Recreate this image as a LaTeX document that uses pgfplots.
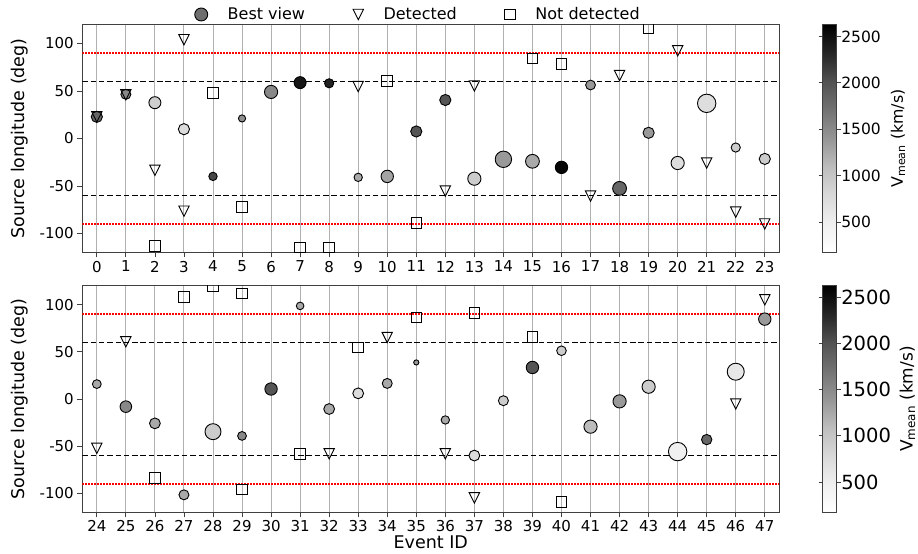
\documentclass[border=0pt]{standalone}
\usepackage{pgfplots}
\pgfplotsset{compat=1.18}
\usepackage{pgfplotstable}
\usepackage{fontspec}
\setmainfont{DejaVu Sans}

\pgfdeclareplotmark{tridown}{%
  \pgfpathmoveto{\pgfqpoint{0pt}{-\pgfplotmarksize}}%
  \pgfpathlineto{\pgfqpoint{\pgfplotmarksize}{\pgfplotmarksize}}%
  \pgfpathlineto{\pgfqpoint{-\pgfplotmarksize}{\pgfplotmarksize}}%
  \pgfpathclose\pgfusepathqstroke}

\definecolor{gridc}{HTML}{B0B0B0}
\definecolor{legc}{HTML}{6E6E6E}

\pgfplotstableread{
x y v r
0 22.8 1830 5.6
1 46.5 1520 5.0
2 37.7 900 6.0
3 9.8 750 5.6
4 -39.9 2100 4.2
5 21.1 1450 3.6
6 49.0 1520 6.6
7 58.8 2450 6.0
8 58.1 2350 4.6
9 -40.9 1250 4.2
10 -39.9 1300 6.2
11 7.4 1990 5.6
12 40.5 1990 5.6
13 -42.3 930 6.6
14 -21.9 1380 8.2
15 -24.0 1250 6.9
16 -30.4 2580 6.2
17 56.3 1380 4.9
18 -52.5 1830 6.9
19 6.0 1380 5.6
20 -25.8 720 6.6
21 37.0 720 9.2
22 -9.5 930 4.6
23 -21.5 930 5.6
}\circA

\pgfplotstableread{
x y
0 22.8
1 46.0
2 -33.5
3 104.0
3 -76.5
9 54.6
12 -55.4
13 55.3
17 -60.6
18 66.2
20 92.3
21 -25.8
22 -77.5
23 -89.9
}\triA

\pgfplotstableread{
x y
2 -113.0
4 48.2
5 -72.3
6 -123.8
7 -114.6
8 -114.6
10 60.6
11 -88.8
14 -120.2
15 84.2
16 78.2
19 116.6
}\sqA

\pgfplotstableread{
x y v r
24 15.8 1250 4.4
25 -8.1 1520 5.8
26 -25.8 1250 5.4
27 -101.5 1250 5.0
28 -34.6 930 8.0
29 -39.1 1520 4.4
30 10.6 1990 6.2
31 98.6 1250 3.8
32 -10.6 1250 5.4
33 6.0 740 5.4
34 16.5 1250 5.0
35 38.7 1380 2.6
36 -22.2 1250 4.2
37 -59.9 740 5.4
38 -1.8 930 5.0
39 33.4 1990 6.2
40 51.1 930 4.8
41 -29.3 1100 6.6
42 -2.5 1380 6.6
43 13.0 930 6.6
44 -55.7 480 9.2
45 -43.0 1830 5.2
46 28.9 600 8.5
47 84.6 1380 6.2
}\circB

\pgfplotstableread{
x y
24 -52.2
25 60.6
32 -58.1
34 65.1
36 -58.1
37 -104.7
46 -5.3
47 105.0
}\triB

\pgfplotstableread{
x y
26 -83.9
26 124.3
27 108.1
28 119.3
29 111.6
29 -95.9
31 -58.1
33 54.6
35 86.3
35 -122.3
37 90.9
39 65.9
40 -109.3
}\sqB

\begin{document}
\begin{tikzpicture}
\path[use as bounding box] (0,0) rectangle (918pt,554pt);
\pgfplotsset{
  myaxis/.style={
    scale only axis,
    width=697pt,
    enlargelimits=false,
    ymin=-120, ymax=120,
    ytick={-100,-50,0,50,100},
    xtick pos=bottom, ytick pos=left,
    tick align=outside,
    major tick length=5pt,
    every tick/.style={black!75, line width=0.8pt},
    axis line style={black!75, line width=0.9pt},
    xmajorgrids,
    major grid style={gridc, line width=0.9pt},
    tick label style={font=\fontsize{15}{18}\selectfont},
    label style={font=\fontsize{17.5}{21}\selectfont},
    ylabel style={yshift=5pt},
    /pgf/number format/assume math mode=true,
    /pgf/number format/1000 sep={},
    ylabel={Source longitude (deg)},
    clip marker paths=true,
    colormap={greys}{rgb=(1,1,1) rgb=(0.941,0.941,0.941) rgb=(0.851,0.851,0.851) rgb=(0.741,0.741,0.741) rgb=(0.588,0.588,0.588) rgb=(0.451,0.451,0.451) rgb=(0.322,0.322,0.322) rgb=(0.145,0.145,0.145) rgb=(0,0,0)},
    point meta min=170, point meta max=2630,
    colorbar,
  },
  cbstyle/.style n args={4}{
    colorbar style={
      at={(parent axis.south east)}, anchor=south west,
      xshift=34.8pt,
      scale only axis,
      width=14pt, height=#1,
      ytick={500,1000,1500,2000,2500},
      tick align=outside,
      major tick length=4pt,
      every tick/.style={black!75, line width=0.8pt},
      axis line style={black!75, line width=0.9pt},
      yticklabel style={font=\fontsize{#2}{#2}\selectfont, inner sep=0pt, xshift=0.5pt},
      ylabel style={font=\fontsize{#3}{#3}\selectfont, inner sep=0pt, yshift=#4},
      ylabel={V\textsubscript{mean} (km/s)},
      /pgf/number format/assume math mode=true,
      /pgf/number format/1000 sep={},
    }
  },
  circplot/.style={
    scatter, only marks, mark=*, scatter src=explicit,
    scatter/use mapped color={draw=black, fill=mapped color},
    visualization depends on={\thisrow{r} \as \rad},
    scatter/@pre marker code/.append style={/tikz/mark size=\rad},
    mark options={line width=0.9pt},
  },
  triplot/.style={only marks, mark=tridown, mark size=5.2, mark options={draw=black, line width=0.9pt}},
  sqplot/.style={only marks, mark=square, mark size=5.3, mark options={draw=black, line width=0.9pt}},
  dashln/.style={black, line width=1.4pt, dash pattern=on 5.5pt off 2.8pt},
  dotln/.style={red, line width=1.5pt, dash pattern=on 1.2pt off 1.8pt},
}
% ---------------- top panel ----------------
\begin{axis}[myaxis,
  at={(82.3pt,301.5pt)}, anchor=south west,
  height=228pt,
  xmin=-0.5, xmax=23.5,
  xtick={0,...,23},
  cbstyle={228pt}{15.5}{15.8}{-10pt},
  legend style={at={(0.482,1.0)}, anchor=south, draw=none, fill=none,
    legend columns=3, font=\fontsize{16}{19}\selectfont,
    /tikz/every odd column/.append style={column sep=18pt},
    /tikz/every even column/.append style={column sep=46pt},
    inner sep=1pt},
  legend cell align=left,
]
\addlegendimage{only marks, mark=*, mark size=6.5, mark options={fill=legc, draw=black, line width=0.9pt}}
\addlegendentry{Best view}
\addlegendimage{triplot}
\addlegendentry{Detected}
\addlegendimage{sqplot}
\addlegendentry{Not detected}
\addplot[dashln] coordinates {(-0.5,60) (23.5,60)};
\addplot[dashln] coordinates {(-0.5,-60) (23.5,-60)};
\addplot[dotln] coordinates {(-0.5,90) (23.5,90)};
\addplot[dotln] coordinates {(-0.5,-90) (23.5,-90)};
\addplot[circplot] table[x=x, y=y, meta=v] {\circA};
\addplot[triplot] table[x=x, y=y] {\triA};
\addplot[sqplot] table[x=x, y=y] {\sqA};
\end{axis}
% ---------------- bottom panel ----------------
\begin{axis}[myaxis,
  at={(82.3pt,41.7pt)}, anchor=south west,
  height=226.6pt,
  xmin=23.5, xmax=47.5,
  xtick={24,...,47},
  xlabel={Event ID},
  xlabel style={yshift=3pt},
  cbstyle={226.6pt}{19.5}{17}{-8.5pt},
]
\addplot[dashln] coordinates {(23.5,60) (47.5,60)};
\addplot[dashln] coordinates {(23.5,-60) (47.5,-60)};
\addplot[dotln] coordinates {(23.5,90) (47.5,90)};
\addplot[dotln] coordinates {(23.5,-90) (47.5,-90)};
\addplot[circplot] table[x=x, y=y, meta=v] {\circB};
\addplot[triplot] table[x=x, y=y] {\triB};
\addplot[sqplot] table[x=x, y=y] {\sqB};
\end{axis}
\end{tikzpicture}
\end{document}
